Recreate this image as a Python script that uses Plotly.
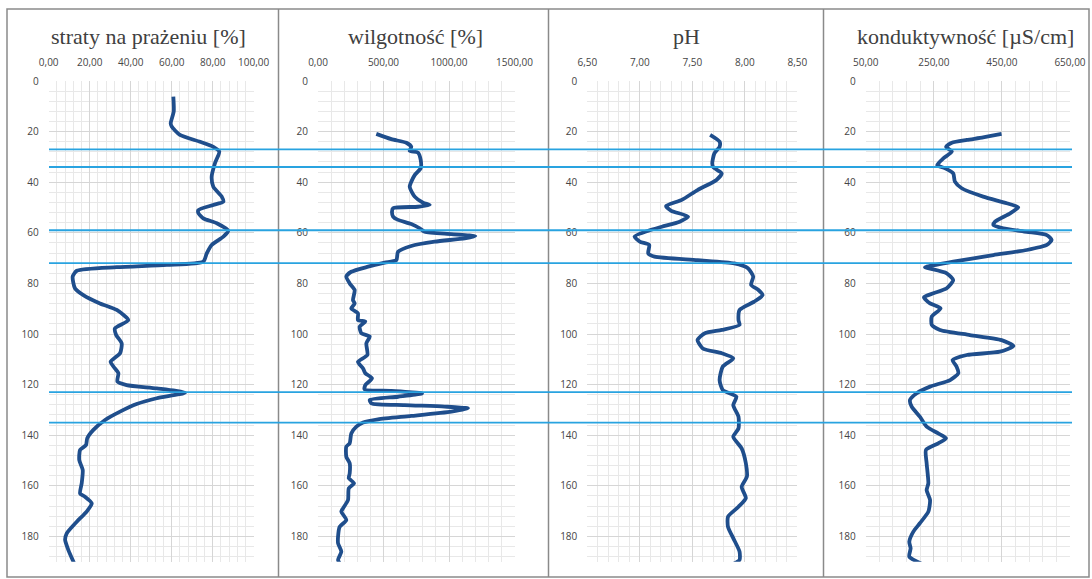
import plotly.graph_objects as go

# ---------------- data ----------------
titles = ["straty na prażeniu [%]", "wilgotność [%]", "pH", "konduktywność [µS/cm]"]

loi_depth = [6.2, 12, 16.7, 18, 21.3, 24, 26, 27.9, 32.5, 37.8, 41.8, 45.7, 47.7, 49, 51, 52.2, 54.3, 56.2,
             59.2, 61.5, 64.8, 68.1, 71.4, 72.7, 73.6, 75, 77.3, 81.9, 84.6, 87.9, 90.5, 94.5, 97.8, 100.4,
             103.7, 107.6, 111, 113.6, 115.5, 118.8, 120.2, 121.5, 123.2, 125.4, 127.7, 130.7, 134, 137.9,
             141.2, 143.9, 145.8, 149.8, 153.8, 159, 163, 164.3, 166.9, 170.2, 174.2, 178.8, 181.4, 185.4, 190.4]
loi_value = [60.8, 61, 59.5, 60, 64, 73.8, 80.3, 83.2, 81.1, 79.5, 80.3, 84.4, 85.2, 80.3, 73, 73, 75.4, 82,
             87.6, 85.2, 79.5, 77.1, 75.4, 57.6, 33.2, 13.7, 11.7, 12.8, 16.9, 25, 33.2, 38.8, 32.3, 32.9,
             35.6, 34.8, 30.2, 32.3, 34, 33.5, 38, 52.7, 66.5, 52.7, 42.9, 34.8, 27.5, 21.8,
             18.8, 18.2, 15.3, 14.9, 16.6, 16.1, 15.3, 17.7, 21, 18.5, 13.7, 8.8, 8, 9.6, 12.3]

moist_depth = [20.9, 23, 24.4, 26, 27.6, 28.3, 31.2, 34.5, 37.2, 41.8, 45.7, 48.1, 49, 49.7, 50.3, 51.6, 53.6,
               54.9, 56.5, 58.2, 59.6, 60.5, 61.3, 62.2, 63.5, 65.2, 67.5, 70.8, 71.8, 73.4, 75.4, 77.3, 80,
               82.6, 86.6, 87.9, 89.9, 91.8, 94.5, 95.1, 97.1, 99.7, 101, 103.7, 108.3, 111, 113.6, 115.5,
               117.5, 120.2, 121.9, 122.5, 123.5, 124.8, 126.1, 127.4, 128.1, 128.7, 129.4, 130.7, 132.4,
               133.7, 135, 136.6, 139.3, 143.2, 144.5, 148.5, 151.1, 155.1, 157, 159, 161, 165.6, 168.9,
               170.2, 173.5, 176.2, 180.1, 182.7, 186, 189.3, 190.6]
moist_value = [445, 560, 674, 712, 700, 763, 784, 784, 738, 700, 738, 802, 853, 763, 573, 565, 573,
               611, 712, 776, 814, 1018, 1201, 1120, 891, 712, 611, 598, 509, 382, 254, 216, 242,
               280, 267, 280, 254, 305, 305, 361, 318, 331, 395, 369, 377, 305, 344, 361,
               412, 361, 356, 560, 794, 611, 395, 408, 662, 967, 1145, 1018, 712,
               458, 344, 293, 254, 242, 216, 216, 242, 242, 235, 275, 235, 229, 191,
               178, 216, 165, 153, 153, 178, 153, 165]

ph_depth = [21.3, 24, 26, 28.6, 32.5, 34.1, 36.5, 39.1, 43.1, 47, 49.4, 51.3, 53.6, 55.6, 57.6, 59.2, 61.5,
            63.5, 64.8, 68.1, 69.4, 70.8, 72.1, 74, 77.3, 80.6, 82.6, 84.6, 87.2, 90.5, 94.5, 96.4, 98.4,
            99.7, 102.4, 105.7, 107.6, 109.6, 112.9, 118.2, 122.1, 124.8, 128.1, 132.7, 137.3, 140.6,
            145.2, 151.1, 156.4, 160.4, 164.9, 168.3, 172.2, 176.2, 180.7, 186, 189.3, 190.9]
ph_value = [7.67, 7.76, 7.76, 7.71, 7.69, 7.70, 7.78, 7.73, 7.55, 7.40, 7.25, 7.30, 7.46, 7.38, 7.21, 7.08, 6.95,
            7.00, 7.09, 7.08, 7.14, 7.55, 7.90, 8.03, 8.08, 8.06, 8.13, 8.17, 8.09, 7.95, 7.94, 7.95, 7.78,
            7.62, 7.55, 7.60, 7.78, 7.89, 7.79, 7.76, 7.79, 7.92, 7.89, 7.94, 7.94, 7.89,
            7.97, 8.01, 8.02, 7.97, 8.01, 7.94, 7.84, 7.84, 7.89, 7.95, 7.95, 7.89]

cond_depth = [20.9, 22.3, 23.3, 24.4, 26, 27.9, 30.6, 33.2, 34.5, 36.5, 39.8, 42.4, 45.7, 48.3, 49.9, 52.3,
              55.6, 56.9, 58.2, 59.6, 60.9, 62.8, 64.8, 66.8, 68.8, 71.4, 73.4, 73.6, 76, 78.7, 81.9, 83.9,
              85.5, 87.9, 89.9, 93.1, 96.4, 98.4, 100.4, 102.4, 104.7, 107, 108.3, 110.3, 112.9, 115.5,
              118.2, 120.8, 123.4, 126.1, 128.7, 132.7, 136.6, 139.3, 141.2, 143.2, 145.8, 151.1, 159,
              161.7, 165.6, 170.2, 174.8, 178.1, 182.1, 184.7, 188, 191]
cond_value = [449, 395, 347, 303, 286, 303, 278, 260, 283, 307, 312, 332, 395, 464, 498, 474,
              430, 425, 454, 523, 582, 596, 582, 523, 425, 307, 229, 224, 288, 307, 288, 249,
              221, 239, 270, 244, 244, 268, 356, 449, 484, 444, 347, 305, 317, 322,
              298, 239, 200, 180, 185, 209, 229, 263, 286, 263, 227, 229, 234,
              229, 239, 234, 209, 190, 178, 182, 178, 217]

boundary_depths = [27, 34, 59, 72, 123, 135]

x_ranges = [[0, 100], [0, 1500], [6.5, 8.5], [50, 650]]
x_tickvals = [[0, 20, 40, 60, 80, 100], [0, 500, 1000, 1500], [6.5, 7.0, 7.5, 8.0, 8.5], [50, 250, 450, 650]]
x_ticktext = [["0,00", "20,00", "40,00", "60,00", "80,00", "100,00"],
              ["0,00", "500,00", "1000,00", "1500,00"],
              ["6,50", "7,00", "7,50", "8,00", "8,50"],
              ["50,00", "250,00", "450,00", "650,00"]]
x_minor = [4, 100, 0.1, 40]
depth_ticks = [0, 20, 40, 60, 80, 100, 120, 140, 160, 180]

# ---------------- layout geometry ----------------
W, H = 1092, 579
def px(x):
    return x / W
def py(y):
    return 1 - y / H

domains_px = [(48.7, 253.7), (318, 514.5), (587.3, 797.3), (865.7, 1070)]
plot_top, plot_bottom = 81, 561.7
title_cx = [148, 415, 686, 965]

series = [(loi_value, loi_depth), (moist_value, moist_depth), (ph_value, ph_depth), (cond_value, cond_depth)]
line_color = "#1F4E8C"
tick_font = dict(family="Open Sans, Liberation Sans, sans-serif", size=10, color="#454545")

fig = go.Figure()
layout = dict(
    width=W, height=H, margin=dict(l=0, r=0, t=0, b=0, autoexpand=False),
    paper_bgcolor="white", plot_bgcolor="white", showlegend=False,
)
for i, (xv, yv) in enumerate(series):
    sfx = "" if i == 0 else str(i + 1)
    fig.add_trace(go.Scatter(x=xv, y=yv, mode="lines", xaxis="x" + sfx, yaxis="y" + sfx,
                             line=dict(color=line_color, width=3.8, shape="spline", smoothing=0.6),
                             hoverinfo="skip"))
    d0, d1 = domains_px[i]
    layout["xaxis" + sfx] = dict(
        domain=[px(d0), px(d1)], anchor="y" + sfx, side="top", range=x_ranges[i],
        tickvals=x_tickvals[i], ticktext=x_ticktext[i], tickfont=tick_font, automargin=False,
        showgrid=True, gridcolor="#d6d6d6", gridwidth=1, zeroline=False, showline=False,
        ticks="", ticklabelstandoff=12, fixedrange=True,
        minor=dict(dtick=x_minor[i], tick0=x_ranges[i][0], showgrid=True, gridcolor="#e8e8e8", gridwidth=1),
    )
    layout["yaxis" + sfx] = dict(
        domain=[py(plot_bottom), py(plot_top)], anchor="x" + sfx, range=[190, 0],
        tickvals=depth_ticks, tickfont=tick_font, showgrid=True, gridcolor="#d6d6d6", gridwidth=1,
        zeroline=False, showline=False, ticks="", ticklabelstandoff=9, fixedrange=True, automargin=False,
        minor=dict(dtick=4, tick0=0, showgrid=True, gridcolor="#e8e8e8", gridwidth=1),
    )
fig.update_layout(**layout)

shapes = []
# outer frame and panel dividers
shapes.append(dict(type="rect", xref="paper", yref="paper", x0=px(7), x1=px(1089), y0=py(577), y1=py(9),
                   line=dict(color="#8a8a8a", width=1.5), layer="above"))
for xd in [278.5, 548.5, 823.5]:
    shapes.append(dict(type="line", xref="paper", yref="paper", x0=px(xd), x1=px(xd), y0=py(577), y1=py(9),
                       line=dict(color="#8a8a8a", width=1.5), layer="above"))
# boundary lines spanning all panels
for d in boundary_depths:
    shapes.append(dict(type="line", xref="paper", yref="y", x0=px(49), x1=px(1072), y0=d, y1=d,
                       line=dict(color="#29A3E0", width=1.8), layer="above"))
fig.update_layout(shapes=shapes)

annotations = []
for i, t in enumerate(titles):
    annotations.append(dict(text=t, xref="paper", yref="paper", x=px(title_cx[i]), y=py(37),
                            xanchor="center", yanchor="middle", showarrow=False,
                            font=dict(family="Liberation Serif, serif", size=22, color="#404040")))
fig.update_layout(annotations=annotations)

fig.write_html("out.html")
